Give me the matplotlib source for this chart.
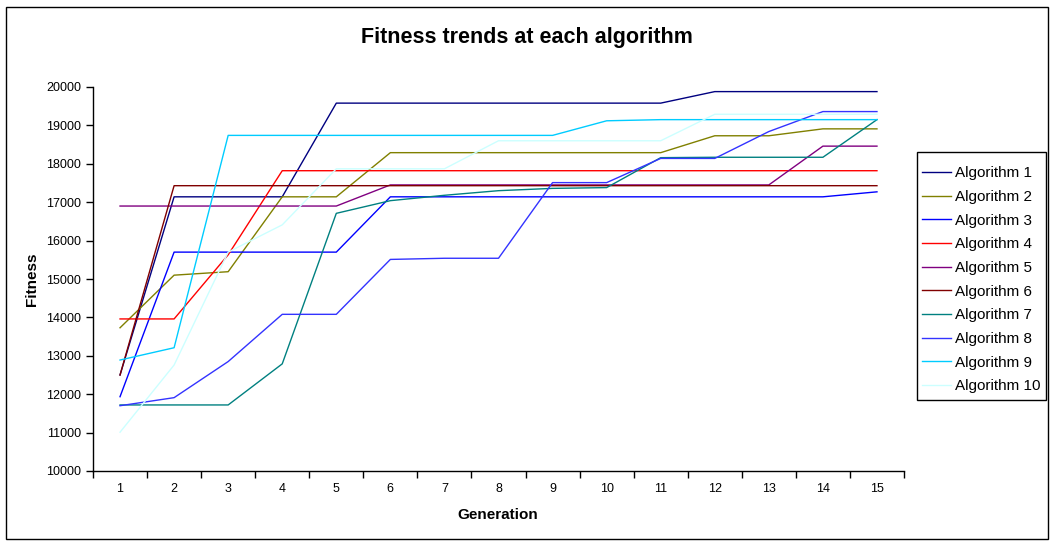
import numpy as np
import matplotlib
matplotlib.use("Agg")
import matplotlib.pyplot as plt
from matplotlib.patches import Rectangle

plt.rcParams['font.family'] = ['Liberation Sans', 'DejaVu Sans']

generations = list(range(1, 16))
series_names = [f"Algorithm {i}" for i in range(1, 11)]

alg1 = [12500, 17140, 17140, 17140, 19580, 19580, 19580, 19580, 19580, 19580, 19580, 19880, 19880, 19880, 19880]
alg2 = [13730, 15100, 15190, 17140, 17140, 18290, 18290, 18290, 18290, 18290, 18290, 18730, 18730, 18910, 18910]
alg3 = [11935, 15700, 15700, 15700, 15700, 17140, 17140, 17140, 17140, 17140, 17140, 17140, 17140, 17140, 17270]
alg4 = [13960, 13960, 15630, 17820, 17820, 17820, 17820, 17820, 17820, 17820, 17820, 17820, 17820, 17820, 17820]
alg5 = [16900, 16900, 16900, 16900, 16900, 17450, 17450, 17450, 17450, 17450, 17450, 17450, 17450, 18460, 18460]
alg6 = [12500, 17430, 17430, 17430, 17430, 17430, 17430, 17430, 17430, 17430, 17430, 17430, 17430, 17430, 17430]
alg7 = [11720, 11720, 11720, 12790, 16710, 17040, 17180, 17300, 17360, 17380, 18160, 18170, 18170, 18170, 19150]
alg8 = [11700, 11910, 12850, 14080, 14080, 15510, 15540, 15540, 17510, 17510, 18140, 18140, 18840, 19360, 19360]
alg9 = [12890, 13210, 18740, 18740, 18740, 18740, 18740, 18740, 18740, 19120, 19150, 19150, 19150, 19150, 19150]
alg10 = [11010, 12760, 15700, 16410, 17870, 17870, 17870, 18600, 18600, 18600, 18600, 19290, 19290, 19290, 19290]

all_series = [alg1, alg2, alg3, alg4, alg5, alg6, alg7, alg8, alg9, alg10]
colors = ['#000080', '#808000', '#0000FF', '#FF0000', '#800080',
          '#800000', '#008080', '#3333FF', '#00CCFF', '#CCFFFF']

W, H = 1051, 541
fig = plt.figure(figsize=(W / 100, H / 100), dpi=100)

# outer chart border
fig.patches.append(Rectangle((6 / W, 2 / H), (1048 - 6) / W, (539 - 7) / H,
                             transform=fig.transFigure, fill=False,
                             edgecolor='black', linewidth=1.0))
# legend border
fig.patches.append(Rectangle((917 / W, (H - 400) / H), (1046 - 917) / W, (400 - 152) / H,
                             transform=fig.transFigure, fill=False,
                             edgecolor='black', linewidth=1.0))

x0, x1, y0, y1 = 93, 904, 87, 471
ax = fig.add_axes([x0 / W, (H - y1) / H, (x1 - x0) / W, (y1 - y0) / H])

for name, vals, c in zip(series_names, all_series, colors):
    ax.plot(generations, vals, color=c, linewidth=1.0, label=name)

ax.set_xlim(0.5, 15.5)
ax.set_ylim(10000, 20000)
ax.set_yticks(np.arange(10000, 20001, 1000))
ax.set_xticks(np.arange(0.5, 15.6, 1.0))
ax.set_xticklabels([])
ax.set_xticks(generations, minor=True)
ax.set_xticklabels([str(g) for g in generations], minor=True)

ax.tick_params(axis='y', which='major', direction='out', length=5, width=1,
               labelsize=9, pad=3.6, colors='black')
ax.tick_params(axis='x', which='major', direction='out', length=5, width=1)
ax.tick_params(axis='x', which='minor', length=0, labelsize=9, pad=8.5)

for s in ['top', 'right']:
    ax.spines[s].set_visible(False)
for s in ['left', 'bottom']:
    ax.spines[s].set_linewidth(1.0)
    ax.spines[s].set_color('black')

fig.text(527 / W, 1 - 37 / H, "Fitness trends at each algorithm",
         ha='center', va='center', fontsize=15.5, fontweight='bold')
fig.text(32 / W, 1 - 279 / H, "Fitness", ha='center', va='center',
         rotation=90, fontsize=11, fontweight='bold')
fig.text(498 / W, 1 - 515 / H, "Generation", ha='center', va='center',
         fontsize=11, fontweight='bold')

leg = ax.legend(loc='upper left', bbox_to_anchor=(922 / W, 1 - 166.5 / H),
                bbox_transform=fig.transFigure, borderaxespad=0,
                frameon=False, borderpad=0,
                fontsize=11, handlelength=1.9, handletextpad=0.25,
                labelspacing=0.63)

fig.savefig("out.png", dpi=100)
